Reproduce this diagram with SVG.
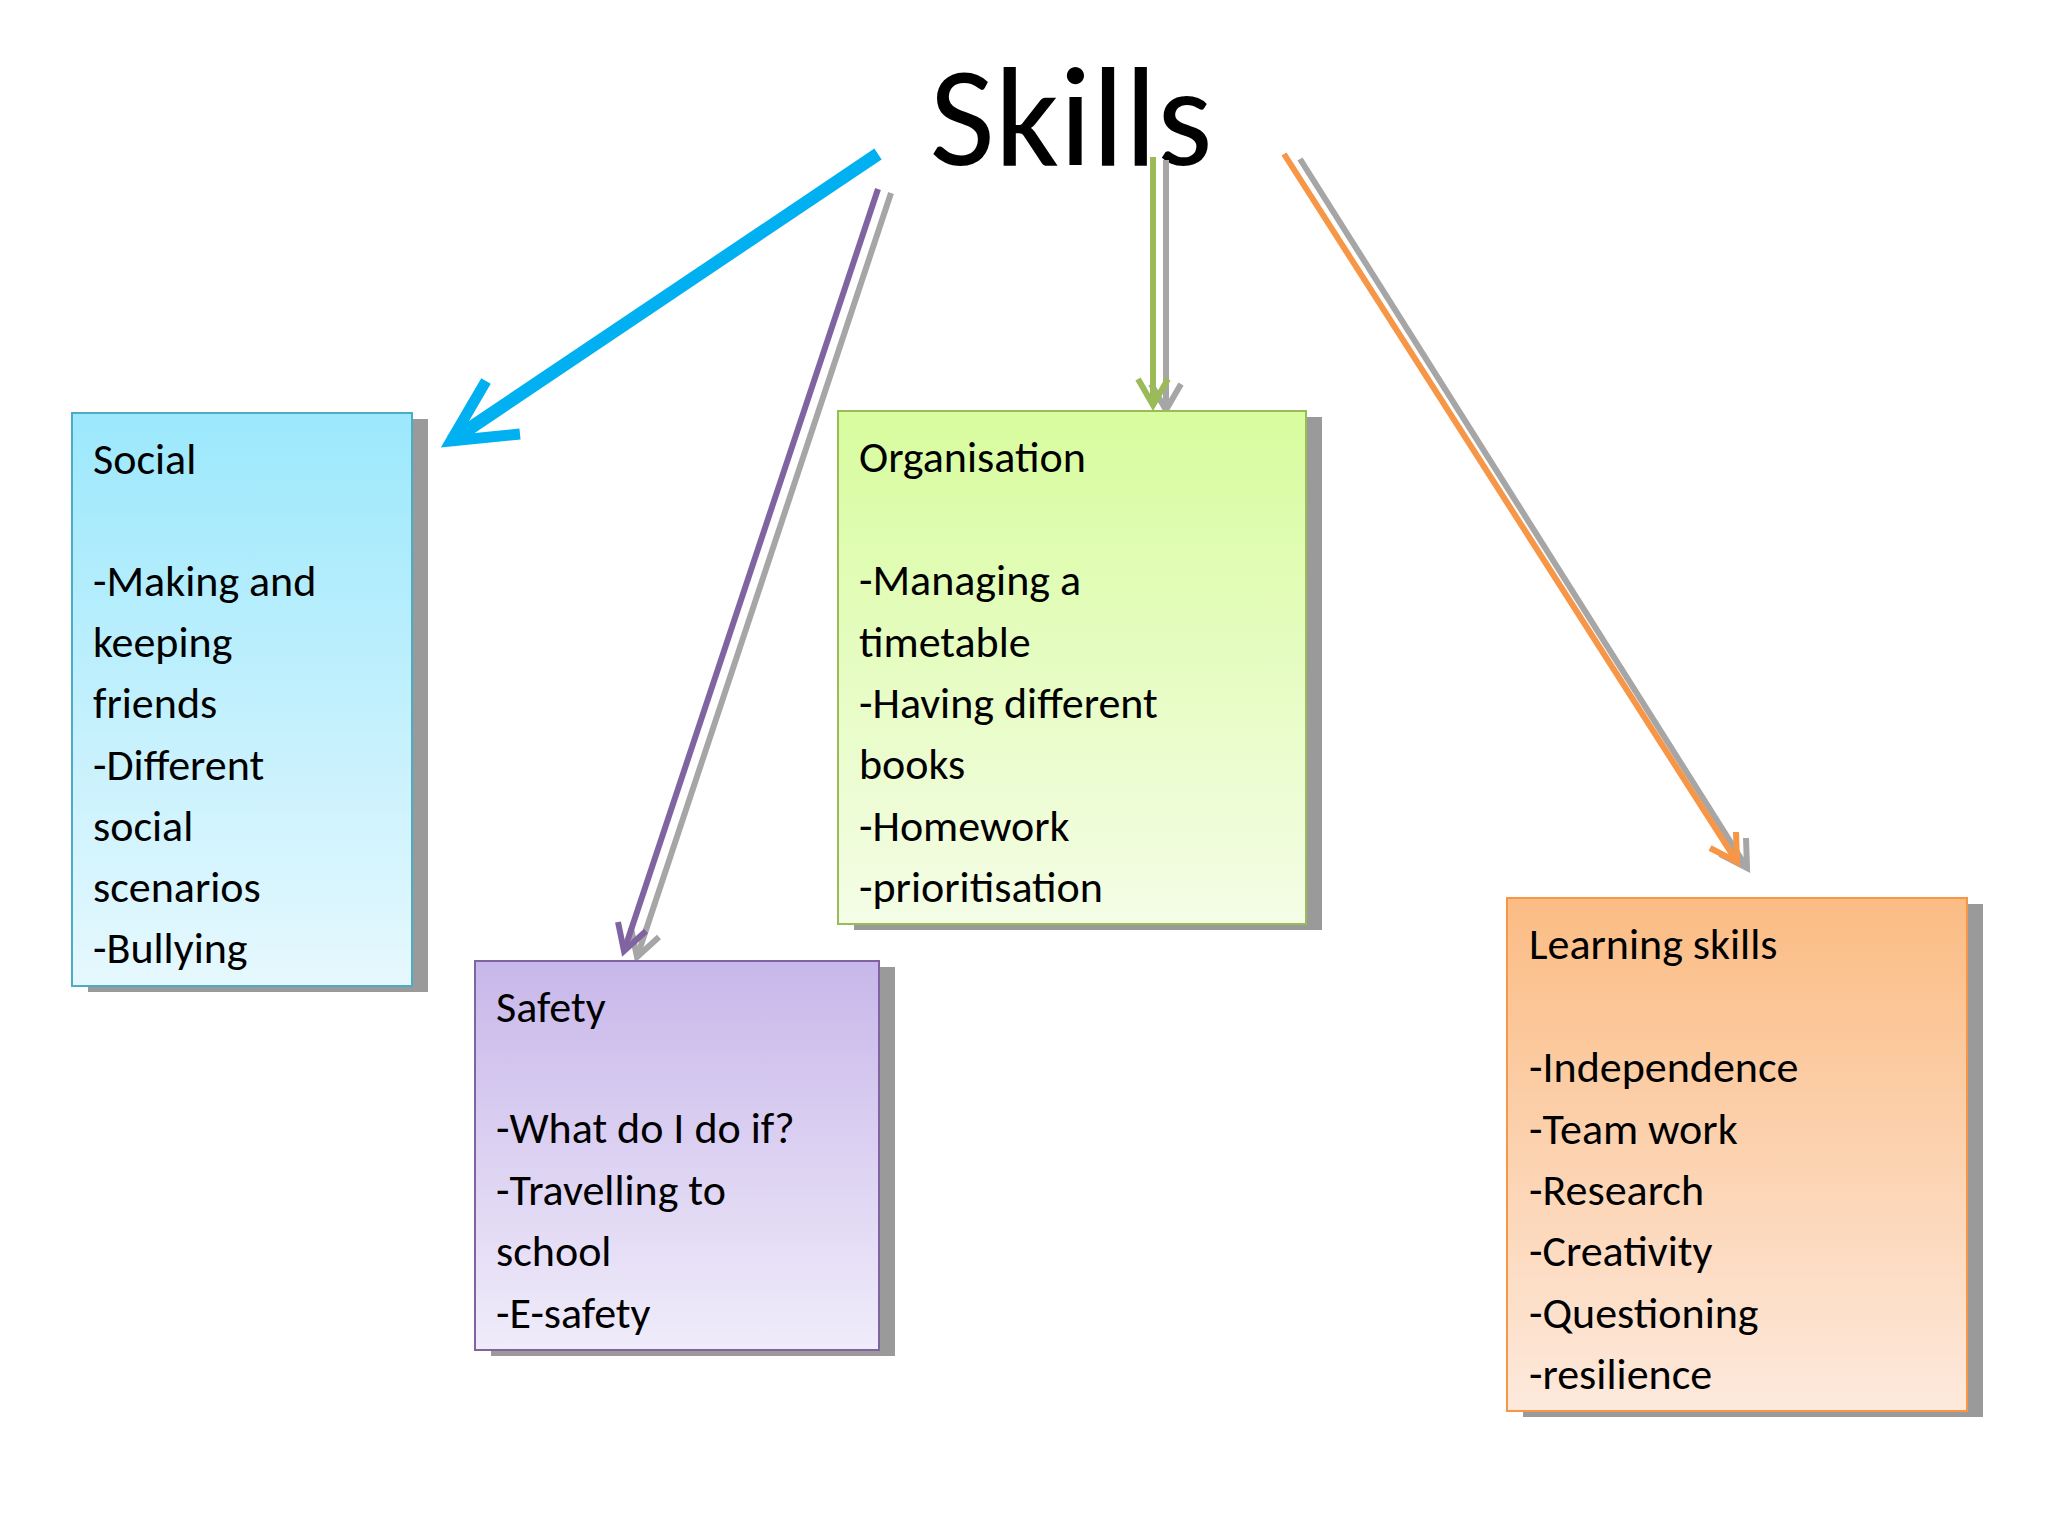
<svg xmlns="http://www.w3.org/2000/svg" width="2048" height="1536" viewBox="0 0 2048 1536">
<style>
text{font-family:Calibri,"Carlito","Liberation Sans",sans-serif;fill:#000}
.t{font-size:44px}
.sh{fill:#9a9a9a}
.c{fill:none;stroke-linecap:butt}
</style>
<defs>
<linearGradient id="gs" x1="0" y1="0" x2="0" y2="1"><stop offset="0" stop-color="#9ce8fc"/><stop offset="1" stop-color="#e6f8fe"/></linearGradient>
<linearGradient id="gf" x1="0" y1="0" x2="0" y2="1"><stop offset="0" stop-color="#c8b7ea"/><stop offset="1" stop-color="#f0ecfa"/></linearGradient>
<linearGradient id="go" x1="0" y1="0" x2="0" y2="1"><stop offset="0" stop-color="#d8fc9e"/><stop offset="1" stop-color="#f4fde6"/></linearGradient>
<linearGradient id="gl" x1="0" y1="0" x2="0" y2="1"><stop offset="0" stop-color="#fbbc84"/><stop offset="1" stop-color="#fde9dc"/></linearGradient>
</defs>
<rect width="2048" height="1536" fill="#fff"/>
<text x="1071" y="165" font-size="142" text-anchor="middle">Skills</text>
<g id="connectors">
<line class="c" x1="878" y1="154" x2="451" y2="441" stroke="#00b0f0" stroke-width="13"/>
<polyline class="c" points="486,381 451,441 520,434" stroke="#00b0f0" stroke-width="11"/>
<line class="c" x1="891" y1="193" x2="637" y2="957" stroke="#a6a6a6" stroke-width="6"/>
<polyline class="c" points="659,937 637,957 631,928" stroke="#a6a6a6" stroke-width="6"/>
<line class="c" x1="878" y1="189" x2="624" y2="951" stroke="#8064a2" stroke-width="6"/>
<polyline class="c" points="646,931 624,951 618,922" stroke="#8064a2" stroke-width="6"/>
<line class="c" x1="1166" y1="160" x2="1166" y2="410" stroke="#a6a6a6" stroke-width="6"/>
<polyline class="c" points="1151,384 1166,410 1181,384" stroke="#a6a6a6" stroke-width="6"/>
<line class="c" x1="1153" y1="157" x2="1153" y2="405" stroke="#9bbb59" stroke-width="6"/>
<polyline class="c" points="1138,379 1153,405 1168,379" stroke="#9bbb59" stroke-width="6"/>
<line class="c" x1="1300" y1="159" x2="1747" y2="868" stroke="#a6a6a6" stroke-width="6"/>
<polyline class="c" points="1746,838 1747,868 1720,854" stroke="#a6a6a6" stroke-width="6"/>
<line class="c" x1="1284" y1="154" x2="1737" y2="862" stroke="#f79646" stroke-width="6"/>
<polyline class="c" points="1736,832 1737,862 1710,848" stroke="#f79646" stroke-width="6"/>
</g>
<g id="social">
<rect class="sh" x="88" y="419" width="340" height="573"/>
<rect x="72" y="413" width="340" height="573" fill="url(#gs)" stroke="#4bacc6" stroke-width="2"/>
<text class="t" x="93"><tspan y="474">Social</tspan><tspan x="93" y="596">-Making and</tspan><tspan x="93" y="657">keeping</tspan><tspan x="93" y="718">friends</tspan><tspan x="93" y="780">-Different</tspan><tspan x="93" y="841">social</tspan><tspan x="93" y="902">scenarios</tspan><tspan x="93" y="963">-Bullying</tspan></text>
</g>
<g id="safety">
<rect class="sh" x="491" y="967" width="404" height="389"/>
<rect x="475" y="961" width="404" height="389" fill="url(#gf)" stroke="#8064a2" stroke-width="2"/>
<text class="t" x="496"><tspan y="1022">Safety</tspan><tspan x="496" y="1143">-What do I do if?</tspan><tspan x="496" y="1205">-Travelling to</tspan><tspan x="496" y="1266">school</tspan><tspan x="496" y="1328">-E-safety</tspan></text>
</g>
<g id="organisation">
<rect class="sh" x="854" y="417" width="468" height="513"/>
<rect x="838" y="411" width="468" height="513" fill="url(#go)" stroke="#9bbb59" stroke-width="2"/>
<text class="t" x="859"><tspan y="472">Organisation</tspan><tspan x="859" y="595">-Managing a</tspan><tspan x="859" y="657">timetable</tspan><tspan x="859" y="718">-Having different</tspan><tspan x="859" y="779">books</tspan><tspan x="859" y="841">-Homework</tspan><tspan x="859" y="902">-prioritisation</tspan></text>
</g>
<g id="learning">
<rect class="sh" x="1523" y="904" width="460" height="513"/>
<rect x="1507" y="898" width="460" height="513" fill="url(#gl)" stroke="#f79646" stroke-width="2"/>
<text class="t" x="1529"><tspan y="959">Learning skills</tspan><tspan x="1529" y="1082">-Independence</tspan><tspan x="1529" y="1144">-Team work</tspan><tspan x="1529" y="1205">-Research</tspan><tspan x="1529" y="1266">-Creativity</tspan><tspan x="1529" y="1328">-Questioning</tspan><tspan x="1529" y="1389">-resilience</tspan></text>
</g>
</svg>
